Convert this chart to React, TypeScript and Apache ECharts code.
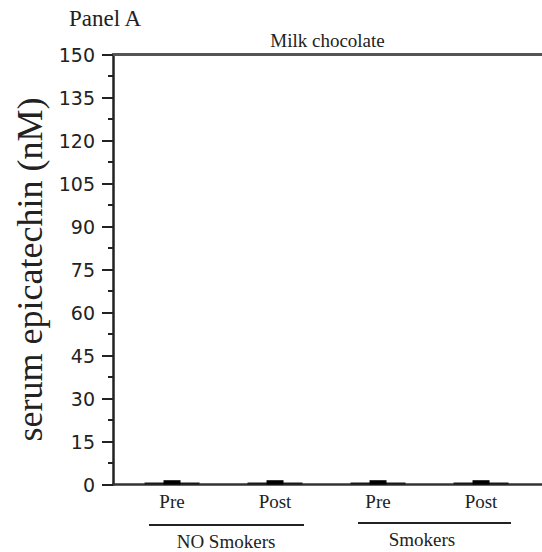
import React, { useEffect, useRef } from "react";
import * as echarts from "echarts";

const phases = ["Pre", "Post", "Pre", "Post"];
const groupNames = ["NO Smokers", "Smokers"];
const meanValues = [0.7, 0.7, 0.7, 0.7];
const upperValues = [1.5, 1.5, 1.5, 1.5];
const yMin = 0;
const yMax = 150;
const yStep = 15;

const SERIF = "'Liberation Serif', 'Times New Roman', serif";
const SANS = "'DejaVu Sans', Verdana, sans-serif";

export default function App() {
  const ref = useRef<HTMLDivElement>(null);
  useEffect(() => {
    if (!ref.current) return;
    const chart = echarts.init(ref.current, undefined, { renderer: "svg" });
    const xMin = -0.573;
    const xMax = 3.592;
    const hiddenX = (extra: any = {}) => ({
      type: "value",
      gridIndex: 0,
      min: xMin,
      max: xMax,
      axisLabel: { show: false },
      axisTick: { show: false },
      splitLine: { show: false },
      ...extra,
    });
    chart.setOption({
      animation: false,
      backgroundColor: "#fff",
      grid: { left: 113, right: 0, top: 54.5, bottom: 67.5 },
      xAxis: [
        hiddenX({
          position: "bottom",
          axisLine: { show: true, onZero: false, lineStyle: { color: "#333", width: 2.5 } },
        }),
        hiddenX({
          position: "top",
          axisLine: { show: true, onZero: false, lineStyle: { color: "#555", width: 3 } },
          name: "Milk chocolate",
          nameLocation: "middle",
          nameGap: 5,
          nameTextStyle: { fontFamily: SERIF, fontSize: 19, color: "#222" },
        }),
        hiddenX({ position: "bottom", axisLine: { show: false } }),
      ],
      yAxis: {
        type: "value",
        min: yMin,
        max: yMax,
        interval: yStep,
        name: "serum epicatechin (nM)",
        nameLocation: "middle",
        nameGap: 48,
        nameTextStyle: { fontFamily: SERIF, fontSize: 36, color: "#222" },
        axisLine: { show: true, onZero: false, lineStyle: { color: "#222", width: 2.5 } },
        axisTick: { show: true, length: 11, lineStyle: { color: "#222", width: 2 } },
        minorTick: { show: true, splitNumber: 2, length: 5, lineStyle: { color: "#222", width: 2 } },
        splitLine: { show: false },
        axisLabel: { fontFamily: SANS, fontSize: 19, color: "#222", margin: 18 },
      },
      series: [
        {
          type: "bar",
          xAxisIndex: 0,
          barWidth: 55,
          itemStyle: { color: "#1a1a1a" },
          data: meanValues.map((v, i) => [i, v]),
          label: {
            show: true,
            position: "bottom",
            distance: 7,
            fontFamily: SERIF,
            fontSize: 19,
            color: "#222",
            formatter: (p: any) => phases[p.dataIndex],
          },
          z: 2,
        },
        {
          type: "bar",
          xAxisIndex: 2,
          barWidth: 17,
          itemStyle: { color: "#000" },
          data: upperValues.map((v, i) => [i, v]),
          z: 3,
        },
      ],
      graphic: [
        {
          type: "text",
          left: 69,
          top: 7,
          style: { text: "Panel A", fontFamily: SERIF, fontSize: 23, fill: "#222" },
        },
        { type: "line", shape: { x1: 149, y1: 525, x2: 304, y2: 525 }, style: { stroke: "#222", lineWidth: 2 } },
        { type: "line", shape: { x1: 358, y1: 523, x2: 511, y2: 523 }, style: { stroke: "#222", lineWidth: 2 } },
        {
          type: "text",
          x: 226,
          y: 541,
          style: { text: groupNames[0], fontFamily: SERIF, fontSize: 19, fill: "#222", align: "center", verticalAlign: "middle" },
        },
        {
          type: "text",
          x: 422,
          y: 539,
          style: { text: groupNames[1], fontFamily: SERIF, fontSize: 19, fill: "#222", align: "center", verticalAlign: "middle" },
        },
      ],
    });
    return () => chart.dispose();
  }, []);
  return <div ref={ref} style={{ position: "fixed", left: 0, top: 0, width: 542, height: 552 }} />;
}
